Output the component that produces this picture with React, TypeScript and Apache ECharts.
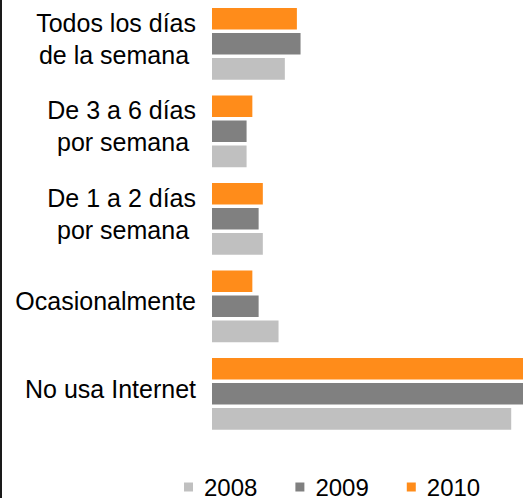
import React, { useEffect, useRef } from "react";
import * as echarts from "echarts";

const categories = [
  "Todos los días\nde la semana ",
  "De 3 a 6 días\npor semana ",
  "De 1 a 2 días\npor semana ",
  "Ocasionalmente",
  "No usa Internet",
];
const years = ["2008", "2009", "2010"];
const values2008 = [13.9, 6.6, 9.7, 12.7, 57.1];
const values2009 = [16.9, 6.6, 8.9, 8.9, 60.2];
const values2010 = [16.2, 7.7, 9.7, 7.7, 60.5];
const colors: Record<string, string> = {
  "2008": "#c0c0c0",
  "2009": "#808080",
  "2010": "#ff8c1a",
};

export default function App() {
  const ref = useRef<HTMLDivElement>(null);
  useEffect(() => {
    document.body.style.margin = "0";
    if (!ref.current) return;
    const chart = echarts.init(ref.current, null, { renderer: "svg" });
    const font = "'Liberation Sans', Arial, sans-serif";
    const seriesData: Record<string, number[]> = {
      "2008": values2008,
      "2009": values2009,
      "2010": values2010,
    };
    const order = ["2010", "2009", "2008"];
    chart.setOption({
      animation: false,
      textStyle: { fontFamily: font },
      grid: {
        left: 212,
        top: 0,
        right: -213,
        height: 437.5,
        containLabel: false,
        outerBoundsMode: "none",
      },
      xAxis: { type: "value", min: 0, max: 100, show: false },
      yAxis: {
        type: "category",
        inverse: true,
        data: categories,
        axisLine: { show: false },
        axisTick: { show: false },
        axisLabel: {
          margin: 16,
          align: "right",
          padding: [0, 0, 10, 0],
          fontSize: 25,
          fontFamily: font,
          color: "#000",
          lineHeight: 32,
          formatter: (v: string) =>
            v
              .split("\n")
              .map((l) => `{t|${l}}`)
              .join("\n"),
          rich: {
            t: {
              fontSize: 25,
              fontFamily: font,
              color: "#000",
              lineHeight: 32,
              align: "right",
            },
          },
        },
      },
      legend: {
        data: years,
        left: 184,
        top: 475,
        padding: 0,
        itemWidth: 9,
        itemHeight: 9,
        itemGap: 38,
        icon: "rect",
        textStyle: { fontSize: 24, fontFamily: font, color: "#000", padding: [0, 0, 0, 6] },
      },
      graphic: [
        { type: "rect", left: 0, top: 0, shape: { x: 0, y: 0, width: 2, height: 498 }, style: { fill: "#1a1a1a" } },
      ],
      series: order.map((y) => ({
        name: y,
        type: "bar",
        data: seriesData[y],
        itemStyle: { color: colors[y] },
        barCategoryGap: "18%",
        barGap: "16%",
      })),
    });
    return () => chart.dispose();
  }, []);
  return <div ref={ref} style={{ width: 523, height: 500 }} />;
}
